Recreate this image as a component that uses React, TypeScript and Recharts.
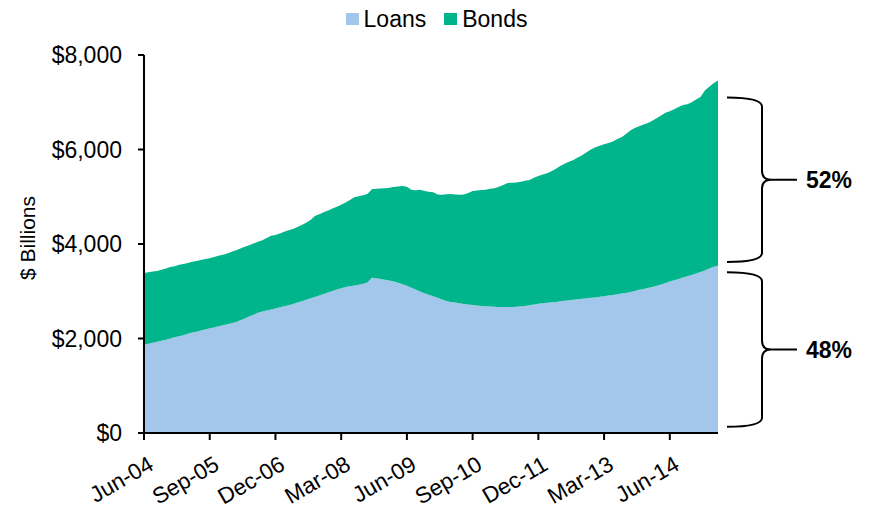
import React from 'react';
import { AreaChart, Area, XAxis, YAxis, ReferenceLine } from 'recharts';

// Monthly, Jun-04 .. May-15 ($ billions)
const LOANS: number[] = [
  1870, 1890, 1910, 1930, 1955, 1975, 2000, 2025, 2045, 2070, 2100,
  2125, 2145, 2170, 2190, 2215, 2235, 2260, 2280, 2300, 2325, 2350,
  2385, 2425, 2465, 2505, 2545,
  2570, 2590, 2615, 2635, 2660, 2680, 2705,
  2730, 2760, 2790, 2820, 2850,
  2880, 2910, 2940, 2975, 3005, 3035, 3065, 3090,
  3105, 3120, 3140, 3160, 3185,
  3285, 3275, 3260, 3245, 3225, 3205, 3180,
  3150, 3115, 3075, 3035, 2995, 2960, 2925, 2895,
  2860, 2825, 2795, 2775,
  2760, 2745, 2730, 2720, 2710, 2700, 2690, 2685, 2675, 2670,
  2665, 2665, 2665, 2668, 2672, 2680, 2690, 2705,
  2720, 2735, 2745, 2755,
  2765, 2775, 2790, 2800, 2810, 2820, 2830, 2840,
  2850, 2860, 2870, 2885, 2895, 2910, 2920, 2935, 2950, 2965,
  2985, 3005, 3030, 3050, 3070, 3090,
  3115, 3145, 3175, 3205, 3235, 3260, 3290, 3320, 3345, 3375, 3405,
  3440, 3480, 3520, 3540,
];

const BONDS: number[] = [
  1516, 1510, 1510, 1500, 1500, 1505, 1513, 1505, 1515, 1505, 1500,
  1500, 1495, 1490, 1490, 1485, 1490, 1490, 1495, 1500, 1510, 1520,
  1520, 1515, 1510, 1505, 1500,
  1510, 1535, 1560, 1555, 1560, 1580, 1585,
  1590, 1600, 1610, 1630, 1660,
  1710, 1720, 1730, 1735, 1745, 1755, 1765, 1790,
  1825, 1870, 1870, 1870, 1875,
  1875, 1895, 1915, 1935, 1965, 2000, 2035,
  2075, 2095, 2075, 2105, 2155, 2160, 2180, 2200,
  2190, 2215, 2260, 2285,
  2290, 2295, 2315, 2360, 2410, 2430, 2455, 2465, 2495, 2510,
  2545, 2585, 2625, 2627, 2628, 2640, 2650, 2650,
  2680, 2705, 2725, 2745,
  2775, 2815, 2860, 2900, 2930, 2960, 3000, 3040,
  3090, 3140, 3180, 3195, 3215, 3230, 3250, 3285, 3310, 3365,
  3415, 3450, 3460, 3480, 3490, 3520,
  3545, 3575, 3605, 3605, 3615, 3640, 3650, 3640, 3655, 3685, 3705,
  3810, 3850, 3880, 3920,
];

const MONTH_NAMES = ['Jan', 'Feb', 'Mar', 'Apr', 'May', 'Jun', 'Jul', 'Aug', 'Sep', 'Oct', 'Nov', 'Dec'];
const MONTHS: string[] = LOANS.map((_, i) => {
  const k = 5 + i;
  return `${MONTH_NAMES[k % 12]}-${String(4 + Math.floor(k / 12)).padStart(2, '0')}`;
});

const X_TICKS = ['Jun-04', 'Sep-05', 'Dec-06', 'Mar-08', 'Jun-09', 'Sep-10', 'Dec-11', 'Mar-13', 'Jun-14'];
const Y_TICKS = [0, 2000, 4000, 6000, 8000];

const SHARE_LABELS = ['52%', '48%'];
const BOND_BRACE = [3620, 7100];
const LOAN_BRACE = [130, 3400];

const data = MONTHS.map((m, i) => ({ m, loans: LOANS[i], bonds: BONDS[i] }));

const FONT = 'Liberation Sans, Arial, sans-serif';
const LOAN_COLOR = '#a2c7ea';
const BOND_COLOR = '#00b48b';

const XTick = (props: any) => {
  const { x, y, payload } = props;
  return (
    <g transform={`translate(${x + 3},${y + 13}) rotate(-30)`}>
      <text x={0} y={0} dy="0.71em" textAnchor="end" fontSize={22.5} fontFamily={FONT} fill="#000">
        {payload.value}
      </text>
    </g>
  );
};

const makeBrace = (label: string) => (props: any) => {
  const { x1, y1, y2 } = props;
  const top = Math.min(y1, y2);
  const bot = Math.max(y1, y2);
  const mid = (top + bot) / 2;
  const L = x1 + 9;
  const M = x1 + 44;
  const T = x1 + 79;
  const r = 9;
  const d =
    `M${L},${top} Q${M},${top} ${M},${top + r} L${M},${mid - r} Q${M},${mid} ${M + r},${mid} L${T},${mid} ` +
    `M${M + r},${mid} Q${M},${mid} ${M},${mid + r} L${M},${bot - r} Q${M},${bot} ${L},${bot}`;
  return (
    <g>
      <path d={d} fill="none" stroke="#000" strokeWidth={2} />
      <text x={T + 9} y={mid} dy="0.36em" fontSize={23} fontWeight="bold" fontFamily={FONT} fill="#000">
        {label}
      </text>
    </g>
  );
};

const YLabel = (props: any) => {
  const vb = props.viewBox || { x: 0, y: 0, width: 0, height: 0 };
  const cx = 27;
  const cy = vb.y + vb.height / 2 - 6;
  return (
    <text
      x={cx}
      y={cy}
      transform={`rotate(-90, ${cx}, ${cy})`}
      textAnchor="middle"
      dy="0.36em"
      fontSize={21}
      fontFamily={FONT}
      fill="#000"
    >
      $ Billions
    </text>
  );
};

const LegendItem = ({ color, label }: { color: string; label: string }) => (
  <div style={{ display: 'flex', alignItems: 'center', margin: '0 9px' }}>
    <div style={{ width: 13, height: 12, background: color, marginRight: 5 }} />
    <span style={{ fontSize: 23, fontFamily: FONT, color: '#000', lineHeight: '26px' }}>{label}</span>
  </div>
);

export default function App() {
  const last = MONTHS[MONTHS.length - 1];
  return (
    <div style={{ position: 'absolute', left: 0, top: 0, width: 869, height: 508, background: '#fff' }}>
      <div
        style={{
          position: 'absolute',
          left: 0,
          top: 6,
          width: 869,
          display: 'flex',
          justifyContent: 'center',
          paddingLeft: 2,
        }}
      >
        <LegendItem color={LOAN_COLOR} label="Loans" />
        <LegendItem color={BOND_COLOR} label="Bonds" />
      </div>
      <AreaChart width={869} height={508} data={data} margin={{ top: 55, right: 151, bottom: 0, left: 0 }}>
        <XAxis
          dataKey="m"
          ticks={X_TICKS}
          interval={0}
          height={75}
          tick={<XTick />}
          tickSize={7}
          axisLine={{ stroke: '#000', strokeWidth: 2 }}
          tickLine={{ stroke: '#000', strokeWidth: 2 }}
        />
        <YAxis
          width={144}
          domain={[0, 8000]}
          ticks={Y_TICKS}
          interval={0}
          tickFormatter={(v: number) => `$${v.toLocaleString('en-US')}`}
          tick={{ fontSize: 23, fontFamily: FONT, fill: '#000' }}
          tickSize={6}
          tickMargin={16}
          axisLine={{ stroke: '#000', strokeWidth: 2 }}
          tickLine={{ stroke: '#000', strokeWidth: 2 }}
          label={<YLabel />}
        />
        <Area
          type="linear"
          dataKey="loans"
          stackId="a"
          stroke="none"
          fill={LOAN_COLOR}
          fillOpacity={1}
          isAnimationActive={false}
        />
        <Area
          type="linear"
          dataKey="bonds"
          stackId="a"
          stroke="none"
          fill={BOND_COLOR}
          fillOpacity={1}
          isAnimationActive={false}
        />
        <ReferenceLine
          segment={[{ x: last, y: BOND_BRACE[0] }, { x: last, y: BOND_BRACE[1] }]}
          ifOverflow="visible"
          shape={makeBrace(SHARE_LABELS[0])}
        />
        <ReferenceLine
          segment={[{ x: last, y: LOAN_BRACE[0] }, { x: last, y: LOAN_BRACE[1] }]}
          ifOverflow="visible"
          shape={makeBrace(SHARE_LABELS[1])}
        />
      </AreaChart>
    </div>
  );
}
